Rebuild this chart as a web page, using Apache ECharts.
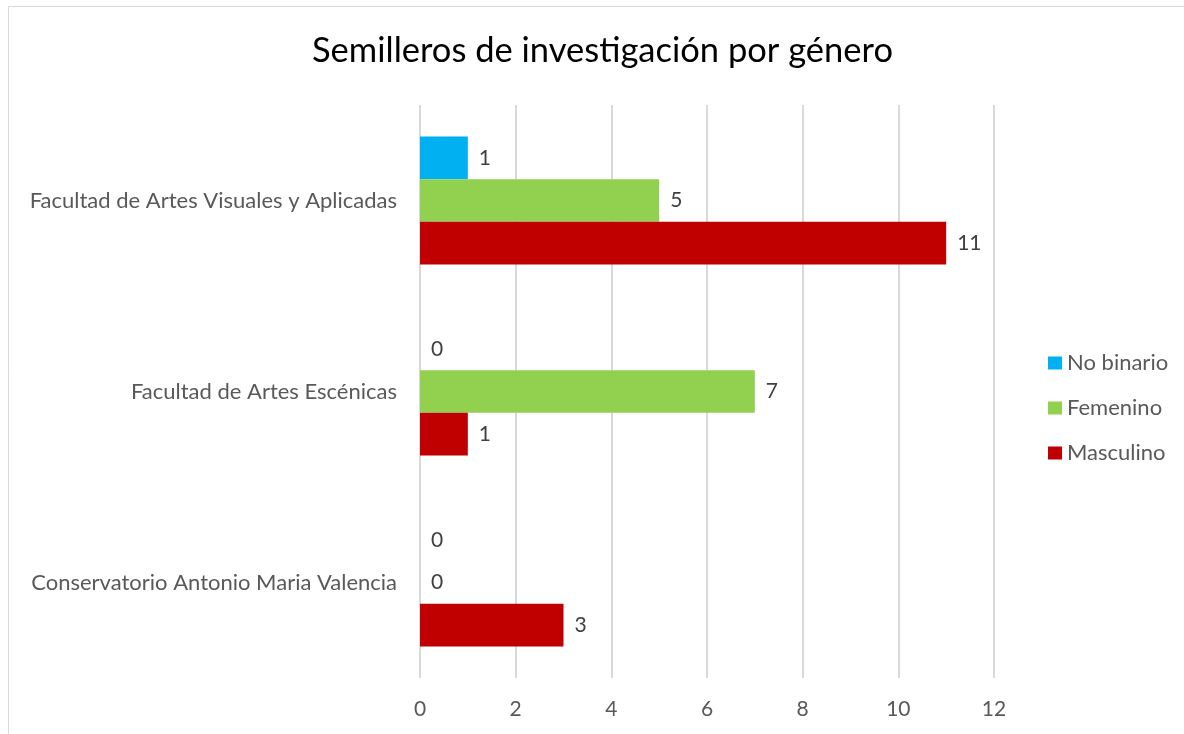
<!DOCTYPE html>
<html>
<head>
<meta charset="utf-8">
<script src="https://cdn.jsdelivr.net/npm/echarts@6/dist/echarts.min.js"></script>
<style>
html,body{margin:0;padding:0;background:#fff;}
#chart{width:1184px;height:734px;}
</style>
</head>
<body>
<div id="chart"></div>
<script>
const titleText = 'Semilleros de investigación por género';
const categories = ['Facultad de Artes Visuales y Aplicadas', 'Facultad de Artes Escénicas', 'Conservatorio Antonio Maria Valencia'];
const seriesNames = ['No binario', 'Femenino', 'Masculino'];
const noBinario = [1, 0, 0];
const femenino = [5, 7, 0];
const masculino = [11, 1, 3];
const seriesColors = ['#00B0F0', '#92D050', '#C00000'];
const xTicks = { min: 0, max: 12, interval: 2 };

const FONT = 'Lato';
const values = [noBinario, femenino, masculino];

const chart = echarts.init(document.getElementById('chart'), null, { renderer: 'canvas' });
chart.setOption({
  backgroundColor: '#ffffff',
  animation: false,
  textStyle: { fontFamily: FONT },
  graphic: [{
    type: 'rect',
    shape: { x: 8.5, y: 6.5, width: 1300, height: 900 },
    style: { fill: 'none', stroke: '#d9d9d9', lineWidth: 1 },
    silent: true
  }],
  title: {
    text: titleText,
    left: 307,
    top: 28,
    textStyle: { fontFamily: FONT, fontSize: 34.5, fontWeight: 'normal', color: '#000000' }
  },
  legend: {
    orient: 'vertical',
    left: 1048,
    top: 352,
    padding: 0,
    itemWidth: 14,
    itemHeight: 13,
    itemGap: 23,
    icon: 'rect',
    data: seriesNames,
    textStyle: { fontFamily: FONT, fontSize: 22, color: '#595959', lineHeight: 22 }
  },
  grid: { left: 420, right: 190, top: 105, bottom: 56, containLabel: false },
  xAxis: {
    type: 'value',
    min: xTicks.min,
    max: xTicks.max,
    interval: xTicks.interval,
    axisLine: { show: false },
    axisTick: { show: false },
    axisLabel: { color: '#595959', fontSize: 21, fontFamily: FONT, margin: 21 },
    splitLine: { show: true, lineStyle: { color: '#d9d9d9', width: 2 } }
  },
  yAxis: {
    type: 'category',
    inverse: true,
    data: categories,
    axisLine: { show: false },
    axisTick: { show: false },
    axisLabel: { color: '#595959', fontSize: 22, fontFamily: FONT, margin: 23 }
  },
  series: seriesNames.map((name, i) => ({
    name: name,
    type: 'bar',
    data: values[i],
    barGap: '0%',
    barCategoryGap: '33%',
    itemStyle: { color: seriesColors[i] },
    label: {
      show: true,
      position: 'right',
      distance: 11,
      color: '#404040',
      fontSize: 21,
      fontFamily: FONT
    }
  }))
});
</script>
</body>
</html>
